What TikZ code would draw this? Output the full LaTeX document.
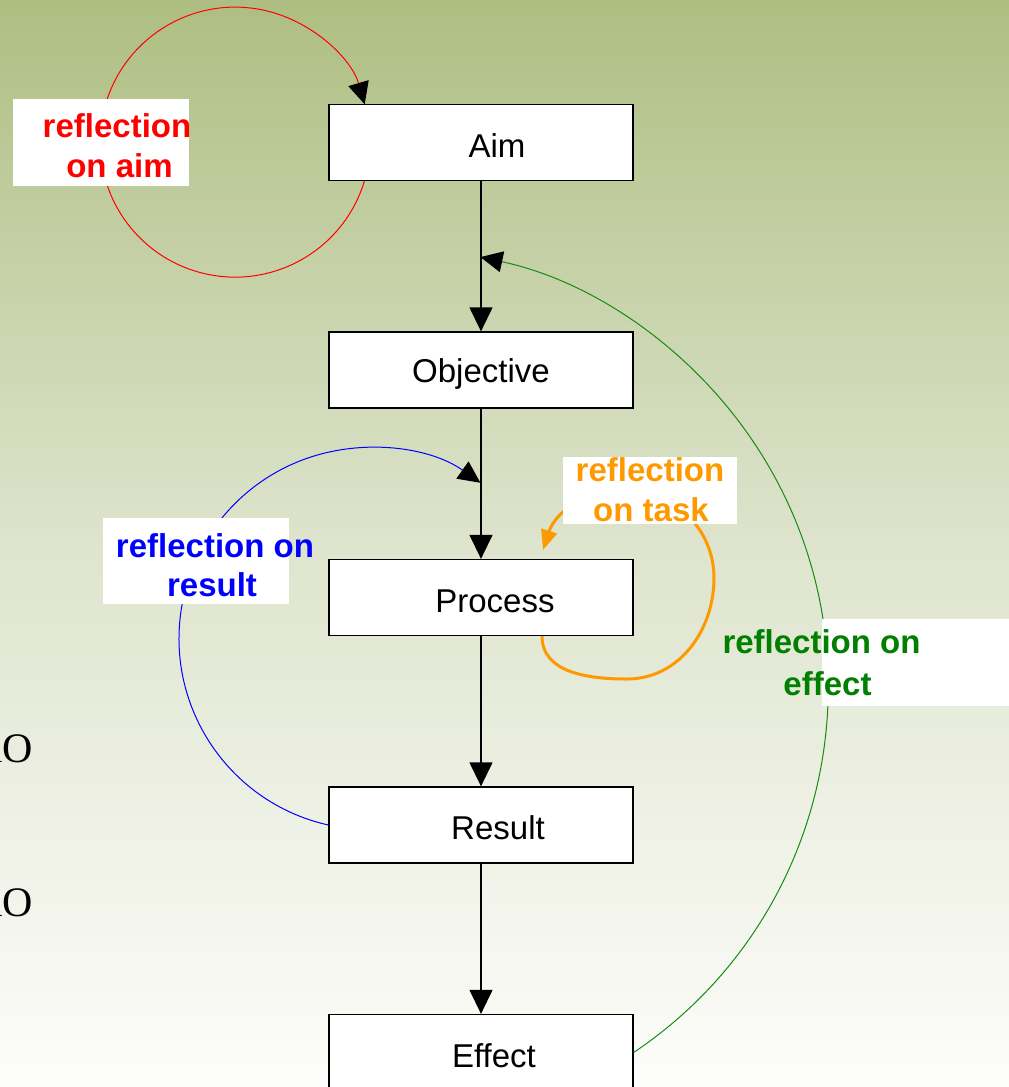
\documentclass[tikz,border=0pt]{standalone}
\usepackage{fontspec}
\setmainfont{Liberation Sans}
\newfontfamily\timesfont{Liberation Serif}
\usetikzlibrary{arrows.meta,calc}
\definecolor{bgtop}{RGB}{174,190,130}
\definecolor{bgmid}{RGB}{222,228,205}
\definecolor{bgbot}{RGB}{253,253,251}
\definecolor{lred}{RGB}{255,0,0}
\definecolor{lblue}{RGB}{0,0,255}
\definecolor{lgreen}{RGB}{0,128,0}
\definecolor{lcurve}{RGB}{20,140,20}
\definecolor{lorange}{RGB}{255,153,0}
\begin{document}
\begin{tikzpicture}[x=1pt,y=1pt,
  stepbox/.style={draw=black, line width=1.3pt, fill=white, minimum width=304pt, minimum height=76pt, inner sep=0pt, font=\fontsize{33}{40}\selectfont, text height=29pt, text depth=0pt},
  flow/.style={draw=black, line width=1.3pt, -{Triangle[width=23pt,length=24pt]}},
  loopline/.style={line width=1pt, -{Triangle[width=21pt,length=22pt,color=black,fill=black]}},
  lbl/.style={font=\fontsize{33}{40}\selectfont\bfseries, anchor=base, inner sep=0pt},
  whitebox/.style={fill=white, draw=none, inner sep=0pt, anchor=north west},
  sidetext/.style={anchor=base east, inner sep=0pt, font=\timesfont\fontsize{42}{42}\selectfont}
]
\useasboundingbox (0,0) rectangle (1009,-1087);
\shade[top color=bgtop, bottom color=bgbot, middle color=bgmid] (0,0) rectangle (1009,-1087);

% side text, cropped by the page edge as in the reference
\node[sidetext] (o1) at (33.5,-762) {lO};
\node[sidetext] (o2) at (33.5,-916) {lO};

% boxes
\node[stepbox] (aim) at (481,-142.5) {\hspace*{32pt}Aim};
\node[stepbox, text height=25pt] (obj) at (481,-370) {Objective};
\node[stepbox] (proc) at (481,-597.5) {\hspace*{28pt}Process};
\node[stepbox] (res) at (481,-825) {\hspace*{34pt}Result};
\node[stepbox] (eff) at (481,-1052.5) {\hspace*{26pt}Effect};

% vertical flow
\draw[flow] (aim) -- (obj);
\draw[flow] (obj) -- (proc);
\draw[flow] (proc) -- (res);
\draw[flow] (res) -- (eff);

% named points
\coordinate (m1) at ($(aim.south)!0.5!(obj.north)$);
\coordinate (m2) at ($(obj.south)!0.5!(proc.north)$);
\coordinate (rs) at ($(aim.south west)+(36,0)$);
\coordinate (os) at ($(proc.south)+(61,0)$);
\coordinate (ob) at (627,-679);
\coordinate (or) at (714,-578);
\coordinate (ot) at (625,-490);
\coordinate (otip) at (543,-550);

% loops
\draw[loopline, draw=lred] (rs) arc[start angle=-16.8, end angle=-343.7, radius=135];
\draw[loopline, draw=lblue] (res.west) arc[start angle=257.4, end angle=54.7, radius=191];
\draw[loopline, draw=lcurve] (eff.east) arc[start angle=-56.1, end angle=77.9, radius=440];
\draw[line width=3pt, draw=lorange, -{Triangle[width=16pt,length=20pt]}] (os) to[out=-90,in=180] (ob) to[out=0,in=-90] (or) to[out=90,in=0] (ot) to[out=180,in=72] (otip);

% labels
\node[whitebox, minimum width=176pt, minimum height=87pt] (rbox) at (13,-99) {};
\node[lbl, text=lred] (rt1) at (117,-137) {reflection};
\node[lbl, text=lred] (rt2) at (119.5,-177) {on aim};

\node[whitebox, minimum width=186pt, minimum height=86pt] (bbox) at (103,-518) {};
\node[lbl, text=lblue] (bt1) at (215,-557) {reflection on};
\node[lbl, text=lblue] (bt2) at (212,-596) {result};

\node[whitebox, minimum width=174pt, minimum height=67pt] (obox) at (563,-457) {};
\node[lbl, text=lorange] (ot1) at (650,-481) {reflection};
\node[lbl, text=lorange] (ot2) at (651,-521) {on task};

\node[whitebox, minimum width=200pt, minimum height=87pt] (gbox) at (822,-619) {};
\node[lbl, text=lgreen] (gt1) at (821.5,-653) {reflection on};
\node[lbl, text=lgreen] (gt2) at (827.5,-695) {effect};
\end{tikzpicture}
\end{document}
